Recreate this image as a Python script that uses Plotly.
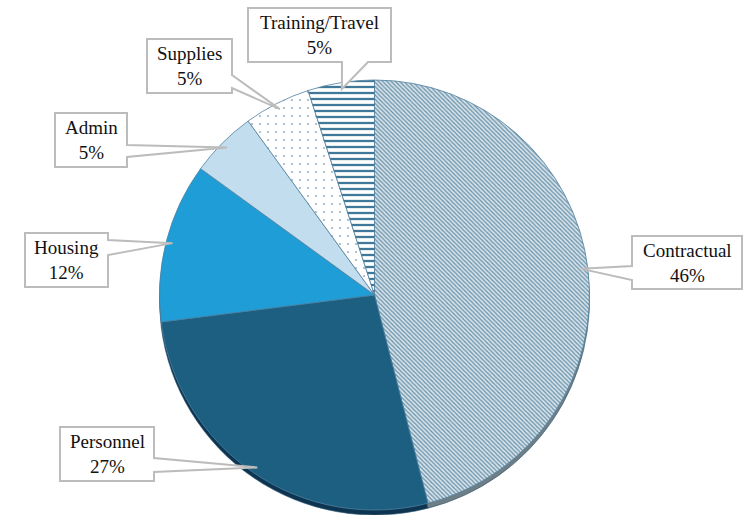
import math
import plotly.graph_objects as go

# Budget share by category (percent), clockwise from 12 o'clock
labels = ["Contractual", "Personnel", "Housing", "Admin", "Supplies", "Training/Travel"]
values = [46, 27, 12, 5, 5, 5]

W, H = 749, 515
CX, CY, R = 374.5, 295.0, 215.0   # pie centre and radius in pixels
DEPTH = 5                          # thickness of the 3-D rim

fill_colors = ["#d6e3ea", "#1c5f80", "#1f9dd6", "#c2ddee", "#ffffff", "#ffffff"]
fg_colors = ["#6890a8", "#1c5f80", "#1f9dd6", "#c2ddee", "#9fb5c3", "#3f7898"]
shapes_pat = ["\\", "", "", "", ".", "-"]
rim_colors = ["#6f7d85", "#0d3450", "#13668f", "#8fb2c6", "#a9b7c0", "#6d8ea2"]

# Callout boxes: (x0, y0, x1, y1), side carrying the pointer, pointer base
callouts = [
    ((632, 236, 742, 289), "left", (266, 280)),
    ((60, 427, 154, 481), "right", (458, 472)),
    ((25, 233, 108, 287), "right", (240, 255)),
    ((55, 113, 127, 167), "right", (145, 157)),
    ((147, 39, 232, 93), "right", (75, 88)),
    ((248, 8, 391, 62), "bottom", (342, 368)),
]


def px(x):
    return x / W


def py(y):
    return 1 - y / H


def dom(cy):
    return dict(x=[px(CX - R), px(CX + R)], y=[py(cy + R), py(cy - R)])


fig = go.Figure()

# rim (shadow) drawn first, slightly lower
fig.add_trace(go.Pie(
    labels=labels, values=values, sort=False, direction="clockwise", rotation=0,
    domain=dom(CY + DEPTH), textinfo="none", hoverinfo="skip", showlegend=False,
    marker=dict(colors=rim_colors, line=dict(color="#2d5870", width=0.6)),
))

fig.add_trace(go.Pie(
    labels=labels, values=values, sort=False, direction="clockwise", rotation=0,
    domain=dom(CY), textinfo="none", showlegend=False,
    marker=dict(
        colors=fill_colors,
        line=dict(color="#4f80a0", width=0.8),
        pattern=dict(shape=shapes_pat, fgcolor=fg_colors, bgcolor=fill_colors,
                     size=[3, 8, 8, 8, 8, 6], solidity=[0.4, 0.3, 0.3, 0.3, 0.06, 0.38],
                     fillmode="replace"),
    ),
))

# callout boxes with pointers to each slice's mid-angle
total = sum(values)
cum = 0.0
shapes = []
annotations = []
for lab, val, (box, side, base) in zip(labels, values, callouts):
    mid = (cum + val / 2) / total
    cum += val
    th = 2 * math.pi * mid
    tx = CX + 0.97 * R * math.sin(th)
    ty = CY - 0.97 * R * math.cos(th)
    x0, y0, x1, y1 = box
    b0, b1 = base
    if side == "right":
        pts = [(x0, y0), (x1, y0), (x1, b0), (tx, ty), (x1, b1), (x1, y1), (x0, y1)]
    elif side == "left":
        pts = [(x0, y0), (x1, y0), (x1, y1), (x0, y1), (x0, b1), (tx, ty), (x0, b0)]
    else:
        pts = [(x0, y0), (x1, y0), (x1, y1), (b1, y1), (tx, ty), (b0, y1), (x0, y1)]
    path = "M " + " L ".join(f"{px(a):.5f},{py(b):.5f}" for a, b in pts) + " Z"
    shapes.append(dict(type="path", xref="paper", yref="paper", path=path,
                       fillcolor="white", line=dict(color="#bcbcbc", width=2)))
    annotations.append(dict(
        x=px((x0 + x1) / 2), y=py((y0 + y1) / 2), xref="paper", yref="paper",
        xanchor="center", yanchor="middle", showarrow=False,
        text=f"{lab}<br>{val}%",
        font=dict(family="Liberation Serif", size=19, color="#111111"),
    ))

fig.update_layout(
    width=W, height=H, margin=dict(l=0, r=0, t=0, b=0),
    paper_bgcolor="white", plot_bgcolor="white",
    shapes=shapes, annotations=annotations,
)

fig.write_html("out.html")
